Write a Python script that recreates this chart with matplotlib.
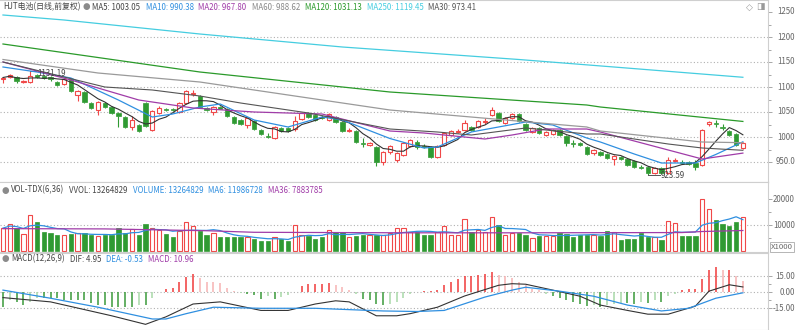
import matplotlib
matplotlib.use("Agg")
import matplotlib.pyplot as plt
import matplotlib.transforms as mtransforms
import numpy as np
import pandas as pd

plt.rcParams['font.family'] = ['Noto Sans CJK SC', 'DejaVu Sans']

# daily candles (price)
opens = [1116, 1120, 1120, 1111, 1110, 1124, 1122, 1120, 1110, 1106,
         1116, 1084, 1090, 1068, 1054, 1068, 1060, 1048, 1040, 1020,
         1024, 1068, 1014, 1048, 1057, 1056, 1050, 1068, 1086, 1082,
         1058, 1050, 1060, 1056, 1040, 1034, 1024, 1032, 1014, 1003,
         998, 1018, 1018, 1016, 1036, 1048, 1044, 1041, 1034, 1040,
         1030, 1013, 1012, 989, 984, 980, 950, 970, 954, 964,
         982, 990, 983, 980, 960, 984, 1004, 1011, 1014, 1020,
         1020, 1031, 1044, 1048, 1028, 1038, 1046, 1026, 1010, 1018,
         1004, 1006, 1014, 1002, 989, 988, 980, 968, 970, 966,
         956, 961, 956, 952, 941, 940, 928, 938, 928, 953,
         951, 950, 948, 944, 1026, 1029, 1021, 1012, 1006, 978]
closes = [1119, 1124, 1112, 1113, 1122, 1120, 1119, 1116, 1104, 1116,
          1092, 1092, 1070, 1058, 1070, 1060, 1048, 1042, 1020, 1034,
          1012, 1022, 1052, 1058, 1055, 1055, 1068, 1092, 1088, 1060,
          1054, 1060, 1057, 1042, 1028, 1026, 1038, 1016, 1006, 1001,
          1020, 1012, 1012, 1032, 1048, 1040, 1034, 1039, 1046, 1030,
          1012, 1015, 990, 987, 988, 950, 970, 982, 968, 988,
          994, 980, 981, 960, 982, 1008, 1012, 1013, 1028, 1014,
          1032, 1033, 1054, 1032, 1038, 1046, 1032, 1014, 1018, 1008,
          1010, 1014, 1004, 988, 987, 984, 966, 974, 964, 958,
          962, 957, 944, 940, 939, 928, 938, 928, 954, 955,
          949, 946, 940, 1014, 1030, 1027, 1019, 1004, 984, 988]
highs = [1120, 1126, 1122, 1114, 1131.19, 1126, 1124, 1122, 1112, 1118,
         1118, 1094, 1092, 1070, 1072, 1070, 1062, 1050, 1042, 1042,
         1026, 1070, 1054, 1062, 1058, 1058, 1070, 1094, 1094, 1084,
         1060, 1062, 1062, 1058, 1042, 1036, 1040, 1034, 1016, 1008,
         1022, 1020, 1020, 1042, 1050, 1050, 1046, 1044, 1048, 1042,
         1032, 1018, 1014, 998, 990, 982, 972, 984, 970, 990,
         996, 994, 986, 982, 984, 1010, 1014, 1016, 1034, 1022,
         1034, 1038, 1060, 1050, 1040, 1048, 1048, 1028, 1020, 1020,
         1012, 1016, 1016, 1004, 994, 990, 982, 976, 972, 968,
         964, 963, 958, 954, 944, 942, 940, 940, 960, 958,
         954, 952, 954, 1016, 1032, 1034, 1026, 1014, 1008, 990]
lows = [1108, 1118, 1108, 1108, 1108, 1118, 1116, 1112, 1102, 1104,
        1090, 1072, 1068, 1056, 1044, 1058, 1046, 1020, 1018, 1014,
        1010, 1020, 1012, 1046, 1052, 1052, 1048, 1066, 1082, 1058,
        1052, 1044, 1056, 1040, 1026, 1024, 1018, 1014, 1004, 998,
        996, 1010, 1010, 1012, 1034, 1038, 1032, 1036, 1032, 1028,
        1010, 1010, 988, 980, 982, 942, 944, 966, 950, 962,
        980, 976, 978, 958, 958, 982, 1002, 1008, 1012, 1012,
        1018, 1026, 1042, 1030, 1026, 1036, 1030, 1012, 1008, 1006,
        1002, 1004, 1002, 982, 980, 982, 964, 964, 962, 956,
        944, 955, 942, 938, 936, 923.59, 926, 926, 926, 950,
        946, 944, 934, 942, 1022, 1020, 1014, 1002, 982, 976]

# volume in units of 1000 shares (axis label X1000)
volume = [8800, 10400, 9000, 6500, 13800, 11100, 7300, 7000, 6000, 6000,
          6600, 7000, 7000, 6000, 5600, 6000, 6000, 9000, 7000, 8600,
          6300, 10500, 8800, 8200, 6500, 5300, 7600, 11000, 9500, 7800,
          6300, 7000, 5500, 5500, 5300, 5300, 5300, 4600, 3900, 3900,
          5400, 4800, 4000, 10000, 6300, 5800, 4600, 5400, 8000, 7300,
          7300, 5400, 5800, 6300, 6300, 6000, 6000, 6800, 8800, 8800,
          7500, 7500, 6300, 6300, 7200, 9600, 6300, 6300, 12300, 7200,
          8000, 7500, 13000, 10000, 6300, 7000, 7000, 6300, 5000, 5800,
          5800, 5800, 7000, 6500, 5500, 6300, 6300, 6300, 5800, 7700,
          7400, 4300, 4700, 4700, 7000, 5500, 5500, 4300, 11500, 10600,
          5800, 5800, 5800, 20000, 16000, 12000, 10500, 9500, 11000, 13265]

macd_hist = [-13.4, -7.2, -8.8, -12, -8.8, -5.6, -5.6, -5.6, -5.6, -7.2,
             -7.2, -7.2, -7.2, -10, -12, -12, -13.4, -13.4, -13.4, -13.4,
             -12, -12, -5.6, 0.3, 3, 3.8, 9.4, 14.7, 17, 13,
             10, 9.4, 8.4, 3.8, 1.6, -1, -2, -2.8, -6, -3.7,
             -6, -4.4, -2.8, 0.3, 5.6, 7.5, 7.5, 7.5, 8.7, 7.2,
             5, 1.9, -1.2, -6, -7.5, -10.6, -12, -10.6, -9, -5,
             -1.2, 0.3, 1, 1.2, 2.5, 6.5, 9.7, 12, 15, 15,
             16, 17.5, 19, 16, 15, 13.7, 9.7, 6.5, 3.4, 1.9,
             -1.2, -3.7, -5, -7.5, -9, -10.6, -13, -12, -13.7, -12,
             -10.6, -10, -10, -10.6, -9, -10, -7.5, -9, -3.7, -1.2,
             1.9, 3, 3, 12.8, 21, 24, 20.6, 21, 15, 10.96]

# moving-average lines read at a few candles each
ma10_idx = [0, 5, 10, 17, 22, 25, 29, 32, 37, 42, 47, 50, 57, 62, 64, 69, 77, 81, 86, 88, 93, 97, 102, 105, 109]
ma10_val = [1140, 1130, 1118, 1074, 1040, 1046, 1060, 1066, 1034, 1020, 1040, 1034, 997, 978, 980, 1010,
            1030, 1024, 998, 990, 966, 948, 948, 965, 990.38]
ma20_idx = [0, 10, 20, 28, 37, 47, 57, 62, 71, 75, 80, 86, 88, 98, 103, 109]
ma20_val = [1150, 1114, 1074, 1058, 1050, 1046, 1012, 1008, 996, 1004, 1016, 1016, 1010, 974, 956, 967.8]
ma30_idx = [0, 15, 22, 29, 35, 45, 51, 57, 64, 69, 77, 86, 88, 98, 103, 109]
ma30_val = [1150, 1100, 1094, 1082, 1068, 1048, 1032, 1016, 1010, 1004, 1018, 1006, 1006, 986, 978, 973.41]
ma60_idx = [0, 14, 29, 57, 86, 88, 103, 109]
ma60_val = [1155, 1128, 1110, 1054, 1020, 1012, 990, 988.62]
ma120_idx = [0, 29, 57, 86, 88, 109]
ma120_val = [1186, 1130, 1090, 1064, 1060, 1031.13]
ma250_idx = [0, 9, 29, 50, 76, 90, 109]
ma250_val = [1244, 1234, 1206, 1180, 1155, 1140, 1119.45]

vma36_idx = [0, 15, 30, 37, 60, 75, 100, 103, 109]
vma36_val = [8600, 8500, 7800, 7200, 7000, 7000, 7100, 7500, 7884]

dif_idx = [0, 7, 16, 21, 24, 28, 32, 38, 42, 46, 49, 51, 55, 58, 60, 64, 68, 73, 75, 77, 81, 85, 88,
           92, 95, 98, 102, 104, 107, 109]
dif_val = [-5, -9, -22, -30, -23, -11, -9, -17, -17, -11, -8, -9, -22, -22, -20, -14, -3.5, 6.5, 8, 7.5,
           2, -3.7, -12, -17, -20.5, -20.5, -13, 1, 7, 4.95]
dea_idx = [0, 7, 14, 22, 24, 27, 31, 38, 46, 56, 61, 65, 71, 75, 77, 82, 87, 92, 97, 101, 105, 109]
dea_val = [2, -5.6, -14, -25, -25, -20, -14, -15, -15, -17.5, -18, -17, -4.5, 2, 4.7, 1, -3.7, -12,
           -17.5, -15, -5.6, -0.53]

price_ticks = [950, 1000, 1050, 1100, 1150, 1200, 1250]
price_labels = ['950.0', '1000', '1050', '1100', '1150', '1200', '1250']
vol_ticks = [10000, 20000]
vol_labels = ['10000', '20000']
macd_ticks = [-15, 0, 15]
macd_labels = ['-15.00', '0.00', '15.00']

RED = '#f04848'
GREEN = '#2f9a32'
BLUE = '#2f8fe0'
PURPLE = '#a03ca8'
DARK = '#444444'
GRID = '#b0b0b0'
EDGE = '#cfcfcf'
FS = 5.7

W, H = 800, 330
fig = plt.figure(figsize=(8, 3.3), dpi=100)


def px_axes(x0, y0, x1, y1):
    return fig.add_axes([x0 / W, 1 - y1 / H, (x1 - x0) / W, (y1 - y0) / H])


ax_p = px_axes(0, 0, 768, 182)
ax_v = px_axes(0, 182, 768, 252)
ax_m = px_axes(0, 253, 768, 330)

o, c, h, l = (np.array(a, dtype=float) for a in (opens, closes, highs, lows))
n = len(c)
x = np.arange(n)
up = c >= o
cols = np.where(up, RED, GREEN)
lo_b = np.minimum(o, c)
hi_b = np.maximum(o, c)
bw = 0.64

# --- price panel
ax_p.vlines(x, l, lo_b, colors=cols, lw=0.8, zorder=2)
ax_p.vlines(x, hi_b, h, colors=cols, lw=0.8, zorder=2)
hgt = np.maximum(hi_b - lo_b, 1.0)
ax_p.bar(x[up], hgt[up], bottom=lo_b[up], width=bw, facecolor='white', edgecolor=RED, lw=0.8, zorder=2)
ax_p.bar(x[~up], hgt[~up], bottom=lo_b[~up], width=bw, color=GREEN, edgecolor=GREEN, lw=0.5, zorder=2)

ma5 = pd.Series(c).rolling(5, min_periods=1).mean()
ax_p.plot(x, ma5, color='#333333', lw=0.8, zorder=3)
ax_p.plot(ma10_idx, ma10_val, color=BLUE, lw=0.9, zorder=3)
ax_p.plot(ma20_idx, ma20_val, color=PURPLE, lw=0.9, zorder=3)
ax_p.plot(ma30_idx, ma30_val, color='#555555', lw=0.8, zorder=3)
ax_p.plot(ma60_idx, ma60_val, color='#9a9a9a', lw=0.9, zorder=3)
ax_p.plot(ma120_idx, ma120_val, color='#2a9a2a', lw=0.9, zorder=3)
ax_p.plot(ma250_idx, ma250_val, color='#45cde0', lw=0.9, zorder=3)

imax = int(np.argmax(h))
imin = int(np.argmin(l))
ax_p.plot([imax, imax + 0.9], [h[imax]] * 2, color='#555555', lw=0.7)
ax_p.text(imax + 1.0, h[imax] - 4, f'{h[imax]:.2f}', fontsize=FS, color=DARK, va='center')
ax_p.plot([imin, imin + 1.8], [l[imin]] * 2, color='#555555', lw=0.7)
ax_p.text(imin + 1.9, l[imin], f'{l[imin]:.2f}', fontsize=FS, color=DARK, va='center')

for v in price_ticks[:-1]:
    ax_p.axhline(v, color=GRID, lw=0.8, ls=(0, (1, 2)), zorder=1)
ax_p.set_ylim(910, 1274)
ax_p.set_yticks(price_ticks)
ax_p.set_yticks([975, 1025, 1075, 1125, 1175, 1225], minor=True)

# --- volume panel
vol = np.array(volume, dtype=float)
ax_v.bar(x[up], vol[up], width=bw, facecolor='white', edgecolor=RED, lw=0.8, zorder=2)
ax_v.bar(x[~up], vol[~up], width=bw, color=GREEN, edgecolor=GREEN, lw=0.5, zorder=2)
vma6 = pd.Series(vol).rolling(6, min_periods=1).mean()
ax_v.plot(x, vma6, color=BLUE, lw=0.9, zorder=3)
ax_v.plot(vma36_idx, vma36_val, color=PURPLE, lw=0.9, zorder=3)
ax_v.axhline(10000, color=GRID, lw=0.8, ls=(0, (1, 2)), zorder=1)
ax_v.set_ylim(-380, 26540)
ax_v.set_yticks(vol_ticks)
ax_v.set_yticks([5000, 15000], minor=True)

# --- MACD panel
hist = np.array(macd_hist)
prev = np.r_[0.0, hist[:-1]]
grow = np.abs(hist) >= np.abs(prev)
mcols = np.where(hist >= 0, np.where(grow, '#f03a3a', '#f7b3b3'),
                 np.where(grow, '#3a9a3a', '#a8d8a8'))
ax_m.vlines(x, 0, hist, colors=mcols, lw=1.1, zorder=2)
ax_m.plot(dif_idx, dif_val, color='#333333', lw=0.8, zorder=3)
ax_m.plot(dea_idx, dea_val, color=BLUE, lw=0.9, zorder=3)
for v in macd_ticks:
    ax_m.axhline(v, color=GRID, lw=0.8, ls=(0, (1, 2)), zorder=1)
ax_m.set_ylim(-35.3, 36.7)
ax_m.set_yticks(macd_ticks)
ax_m.set_yticks([-7.5, 7.5], minor=True)

for ax, ticks, labels in ((ax_p, price_ticks, price_labels), (ax_v, vol_ticks, vol_labels),
                          (ax_m, macd_ticks, macd_labels)):
    ax.set_xlim(-0.44, 112.7)
    ax.set_xticks([])
    ax.yaxis.tick_right()
    ax.set_yticklabels([''] * len(ticks))
    ax.tick_params(axis='y', which='major', direction='out', length=3, width=0.6, color='#999999')
    ax.tick_params(axis='y', which='minor', direction='out', length=2, width=0.6, color='#999999')
    ax.spines['left'].set_visible(False)
    for s in ('top', 'bottom', 'right'):
        ax.spines[s].set_color(EDGE)
        ax.spines[s].set_linewidth(0.8)
    trans = mtransforms.blended_transform_factory(fig.transFigure, ax.transData)
    for v, s in zip(ticks, labels):
        ax.text(795 / W, v, s, transform=trans, ha='right', va='center', fontsize=FS,
                color='#666666', clip_on=False)

# --- header rows
renderer = fig.canvas.get_renderer()


def text_row(x0, y, items, size=FS, gap=5):
    xx = x0
    for s, col in items:
        t = fig.text(xx / W, 1 - y / H, s, color=col, fontsize=size, va='center', ha='left')
        xx += t.get_window_extent(renderer).width + gap
    return xx


def icon(xp, yp):
    fig.text(xp / W, 1 - yp / H, '●', color='#8a8a8a', fontsize=6.2, va='center', ha='center',
             family='DejaVu Sans')


xe = text_row(3, 7, [('HJT电池(日线,前复权)', DARK)])
icon(xe + 1, 7)
text_row(xe + 7, 7, [('MA5: 1003.05', DARK), ('MA10: 990.38', BLUE), ('MA20: 967.80', PURPLE),
                     ('MA60: 988.62', '#888888'), ('MA120: 1031.13', '#2a9a2a'),
                     ('MA250: 1119.45', '#45cde0'), ('MA30: 973.41', '#555555')])
icon(5, 190)
text_row(11, 190, [('VOL-TDX(6,36)', DARK), ('VVOL: 13264829', DARK), ('VOLUME: 13264829', BLUE),
                   ('MA6: 11986728', BLUE), ('MA36: 7883785', PURPLE)])
icon(5, 259)
text_row(11, 259, [('MACD(12,26,9)', DARK), ('DIF: 4.95', DARK), ('DEA: -0.53', BLUE),
                   ('MACD: 10.96', PURPLE)])

fig.text(749 / W, 1 - 7 / H, '◇', color='#999999', fontsize=6.5, va='center', ha='center',
         family='DejaVu Sans')
fig.text(760 / W, 1 - 7 / H, '◨', color='#999999', fontsize=6.5, va='center', ha='center',
         family='DejaVu Sans')
fig.text(782 / W, 1 - 247 / H, 'X1000', color='#666666', fontsize=5.6, va='center', ha='center',
         bbox=dict(boxstyle='square,pad=0.15', fc='white', ec='#aaaaaa', lw=0.6))

fig.savefig('out.png', dpi=100, facecolor='white')
